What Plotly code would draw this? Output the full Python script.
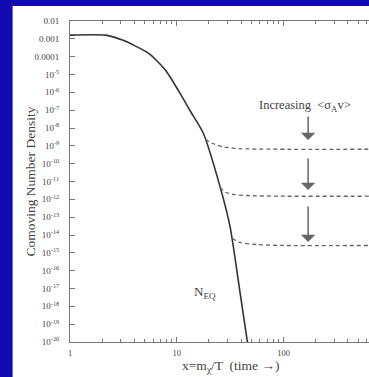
import plotly.graph_objects as go

# ---- data ----
x_eq = [1.0, 2.15, 3.10, 5.42, 7.81, 10.3, 13.4, 17.7, 25.5, 31.6, 39.2, 45.6, 48.6]
y_eq = [1.62e-3, 1.62e-3, 8.5e-4, 1.58e-4, 1.78e-5, 1.32e-6, 8.7e-8, 5.1e-9,
        4.7e-12, 2.7e-14, 5.2e-18, 1.2e-20, 1e-21]

x_fo1 = [18.5, 21.5, 26.6, 39.2, 1000]
y_fo1 = [2.3e-9, 1.4e-9, 8.9e-10, 6.9e-10, 6.5e-10]
x_fo2 = [25.5, 28.4, 35.2, 49.2, 92.7, 1000]
y_fo2 = [4.7e-12, 2.5e-12, 1.8e-12, 1.6e-12, 1.5e-12, 1.5e-12]
x_fo3 = [33.0, 39.2, 56.5, 92.7, 1000]
y_fo3 = [6.5e-15, 3.8e-15, 2.9e-15, 2.6e-15, 2.6e-15]

y_tickvals = [10.0 ** (-k) for k in range(2, 21)]
y_ticktext = ["0.01", "0.001", "0.0001"] + [f"10<sup>-{k}</sup>" for k in range(5, 21)]
x_tickvals = [1, 10, 100]
x_ticktext = ["1", "10", "100"]
x_minor = [m * d for d in (1, 10, 100) for m in range(2, 10)]

BLUE = "#110ab2"
INK = "#444444"
FONT = "Liberation Serif"

# layout geometry (pixels)
W, H = 369, 377
L, T, B = 69.5, 21, 342
PW, PH = W - L, B - T


def px(x):
    return (x - L) / PW


def py(y):
    return (B - y) / PH


fig = go.Figure()
fig.add_trace(go.Scatter(x=x_eq, y=y_eq, mode="lines", line=dict(color="#333333", width=1.6, shape="spline", smoothing=0.6)))
for xs, ys in ((x_fo1, y_fo1), (x_fo2, y_fo2), (x_fo3, y_fo3)):
    fig.add_trace(go.Scatter(x=xs, y=ys, mode="lines",
                             line=dict(color="#666666", width=1.3, dash="4px,3px", shape="spline", smoothing=0.6)))

annotations = [
    dict(text="Comoving Number Density", xref="paper", yref="paper", x=px(30), y=py(182),
         xanchor="center", yanchor="middle",
         textangle=-90, showarrow=False, font=dict(family=FONT, size=13.5, color=INK)),
    dict(text="x=m<sub>χ</sub>/T  (time \u2192)", xref="paper", yref="paper", x=px(230), y=py(367),
         xanchor="center", yanchor="middle",
         showarrow=False, font=dict(family=FONT, size=13.5, color=INK)),
    dict(text="N<sub>EQ</sub>", xref="paper", yref="paper", x=px(192), y=py(292), xanchor="left",
         yanchor="middle", showarrow=False, font=dict(family=FONT, size=13, color=INK)),
    dict(text="Increasing  &lt;σ<sub>A</sub>v&gt;", xref="paper", yref="paper", x=px(257), y=py(106),
         xanchor="left", yanchor="middle", showarrow=False, font=dict(family=FONT, size=12.5, color=INK)),
]
for head, length in ((140, 25), (190, 33), (242, 37)):
    annotations.append(dict(text="", xref="paper", yref="paper", x=px(308), y=py(head),
                            ax=0, ay=-length, showarrow=True, arrowhead=1, arrowsize=1.6,
                            arrowwidth=1.5, arrowcolor="#666666"))

fig.update_layout(
    width=W, height=H,
    margin=dict(l=L, r=0, t=T, b=H - B),
    paper_bgcolor=BLUE, plot_bgcolor="white",
    showlegend=False,
    annotations=annotations,
    shapes=[dict(type="rect", xref="paper", yref="paper", x0=px(12), x1=1.01, y0=py(378), y1=py(6),
                 fillcolor="white", line=dict(width=0), layer="below")],
    xaxis=dict(type="log", range=[0, PW / 107], showline=True, linecolor="#777777", linewidth=1,
               mirror="ticks", ticks="inside", ticklen=5, tickcolor="#777777",
               tickvals=x_tickvals, ticktext=x_ticktext, showgrid=False, zeroline=False,
               tickfont=dict(family=FONT, size=8.5, color=INK), ticklabelstandoff=3,
               minor=dict(ticks="inside", ticklen=3, tickcolor="#777777", tickvals=x_minor, showgrid=False)),
    yaxis=dict(type="log", range=[-20, -2], showline=True, linecolor="#777777", linewidth=1,
               mirror=False, ticks="inside", ticklen=5, tickcolor="#777777",
               tickvals=y_tickvals, ticktext=y_ticktext, showgrid=False, zeroline=False,
               tickfont=dict(family=FONT, size=9, color=INK), ticklabelstandoff=8),
)

fig.write_html("out.html")
